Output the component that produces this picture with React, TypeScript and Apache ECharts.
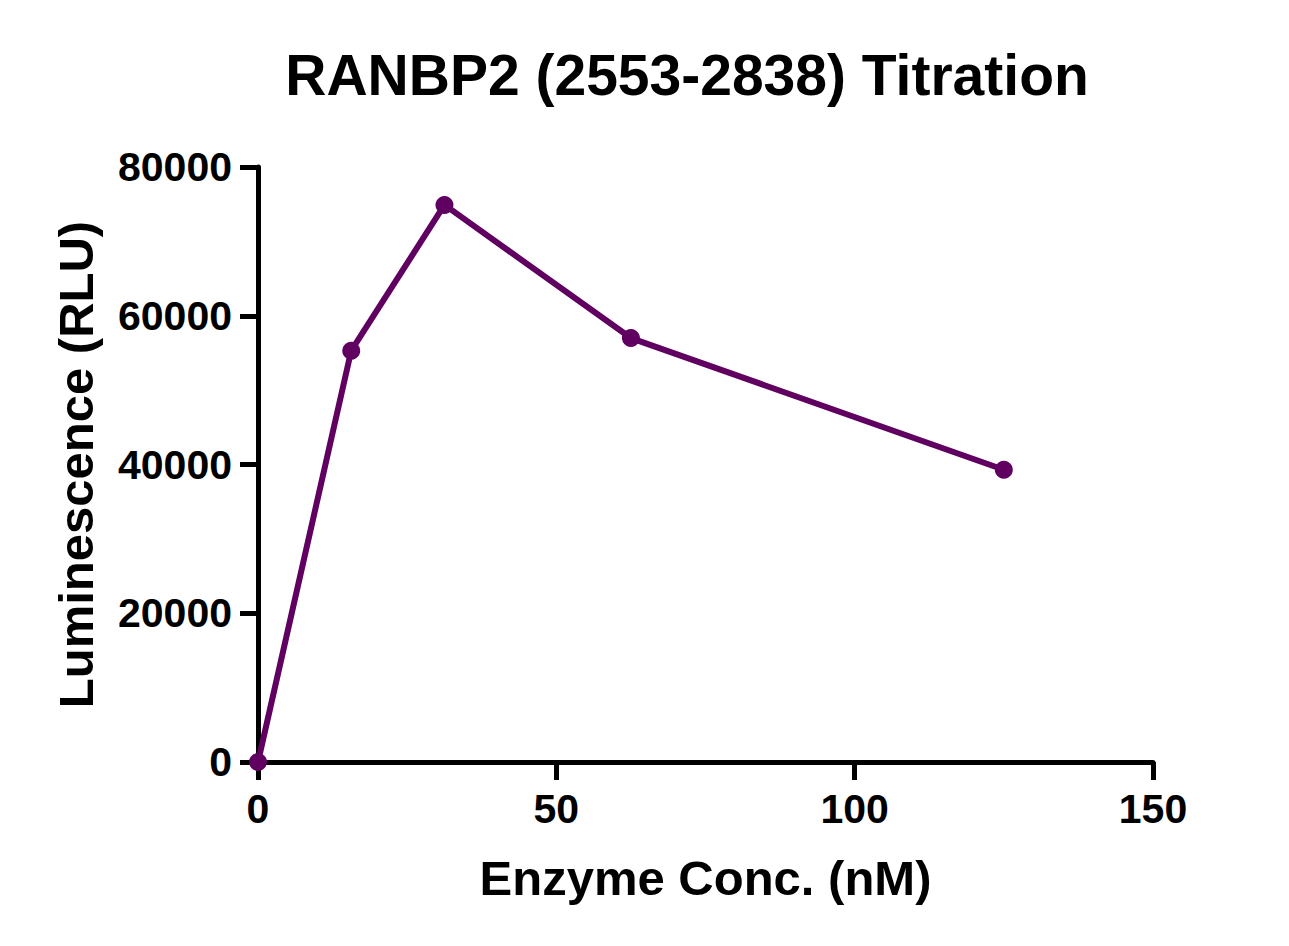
import { useEffect, useRef } from "react";
import * as echarts from "echarts";

// enzyme concentration (nM) and luminescence (RLU)
const concentrations = [0, 15.625, 31.25, 62.5, 125];
const luminescence = [0, 55300, 74900, 57000, 39300];

const titleText = "RANBP2 (2553-2838) Titration";
const xName = "Enzyme Conc. (nM)";
const yName = "Luminescence (RLU)";

const FONT = '"Liberation Sans", Arial, sans-serif';
const PURPLE = "#600060";

export default function App() {
    const chartRef = useRef<HTMLDivElement>(null);

    useEffect(() => {
        document.body.style.margin = "0";
        if (!chartRef.current) return;
        const chart = echarts.init(chartRef.current, null, { renderer: "svg" });

        const axisStyle = {
            axisLine: { show: true, lineStyle: { color: "#000", width: 5 } },
            axisTick: { show: true, inside: false, length: 18, lineStyle: { color: "#000", width: 5 } },
            splitLine: { show: false },
        };
        const labelStyle = { fontFamily: FONT, fontWeight: "bold", fontSize: 41, color: "#000", margin: 26 };
        const nameStyle = { fontFamily: FONT, fontWeight: "bold", fontSize: 49, color: "#000" };

        chart.setOption({
            animation: false,
            backgroundColor: "#fff",
            graphic: [
                {
                    type: "text",
                    x: 687,
                    y: 75,
                    style: {
                        text: titleText,
                        font: `bold 57px ${FONT}`,
                        fill: "#000",
                        align: "center",
                        verticalAlign: "middle",
                    },
                },
            ],
            grid: { left: 258, right: 136, top: 167, bottom: 184 },
            xAxis: {
                type: "value",
                min: 0,
                max: 150,
                interval: 50,
                name: xName,
                nameLocation: "middle",
                nameGap: 91,
                nameTextStyle: nameStyle,
                axisLabel: { ...labelStyle },
                ...axisStyle,
            },
            yAxis: {
                type: "value",
                min: 0,
                max: 80000,
                interval: 20000,
                name: yName,
                nameLocation: "middle",
                nameRotate: 90,
                nameGap: 158,
                nameTextStyle: nameStyle,
                axisLabel: { ...labelStyle, formatter: (v: number) => String(v) },
                ...axisStyle,
            },
            series: [
                {
                    type: "line",
                    data: concentrations.map((c, i) => [c, luminescence[i]]),
                    symbol: "circle",
                    symbolSize: 18,
                    lineStyle: { color: PURPLE, width: 6 },
                    itemStyle: { color: PURPLE },
                    z: 5,
                },
            ],
        });

        return () => {
            chart.dispose();
        };
    }, []);

    return <div ref={chartRef} style={{ width: 1289, height: 946 }} />;
}
